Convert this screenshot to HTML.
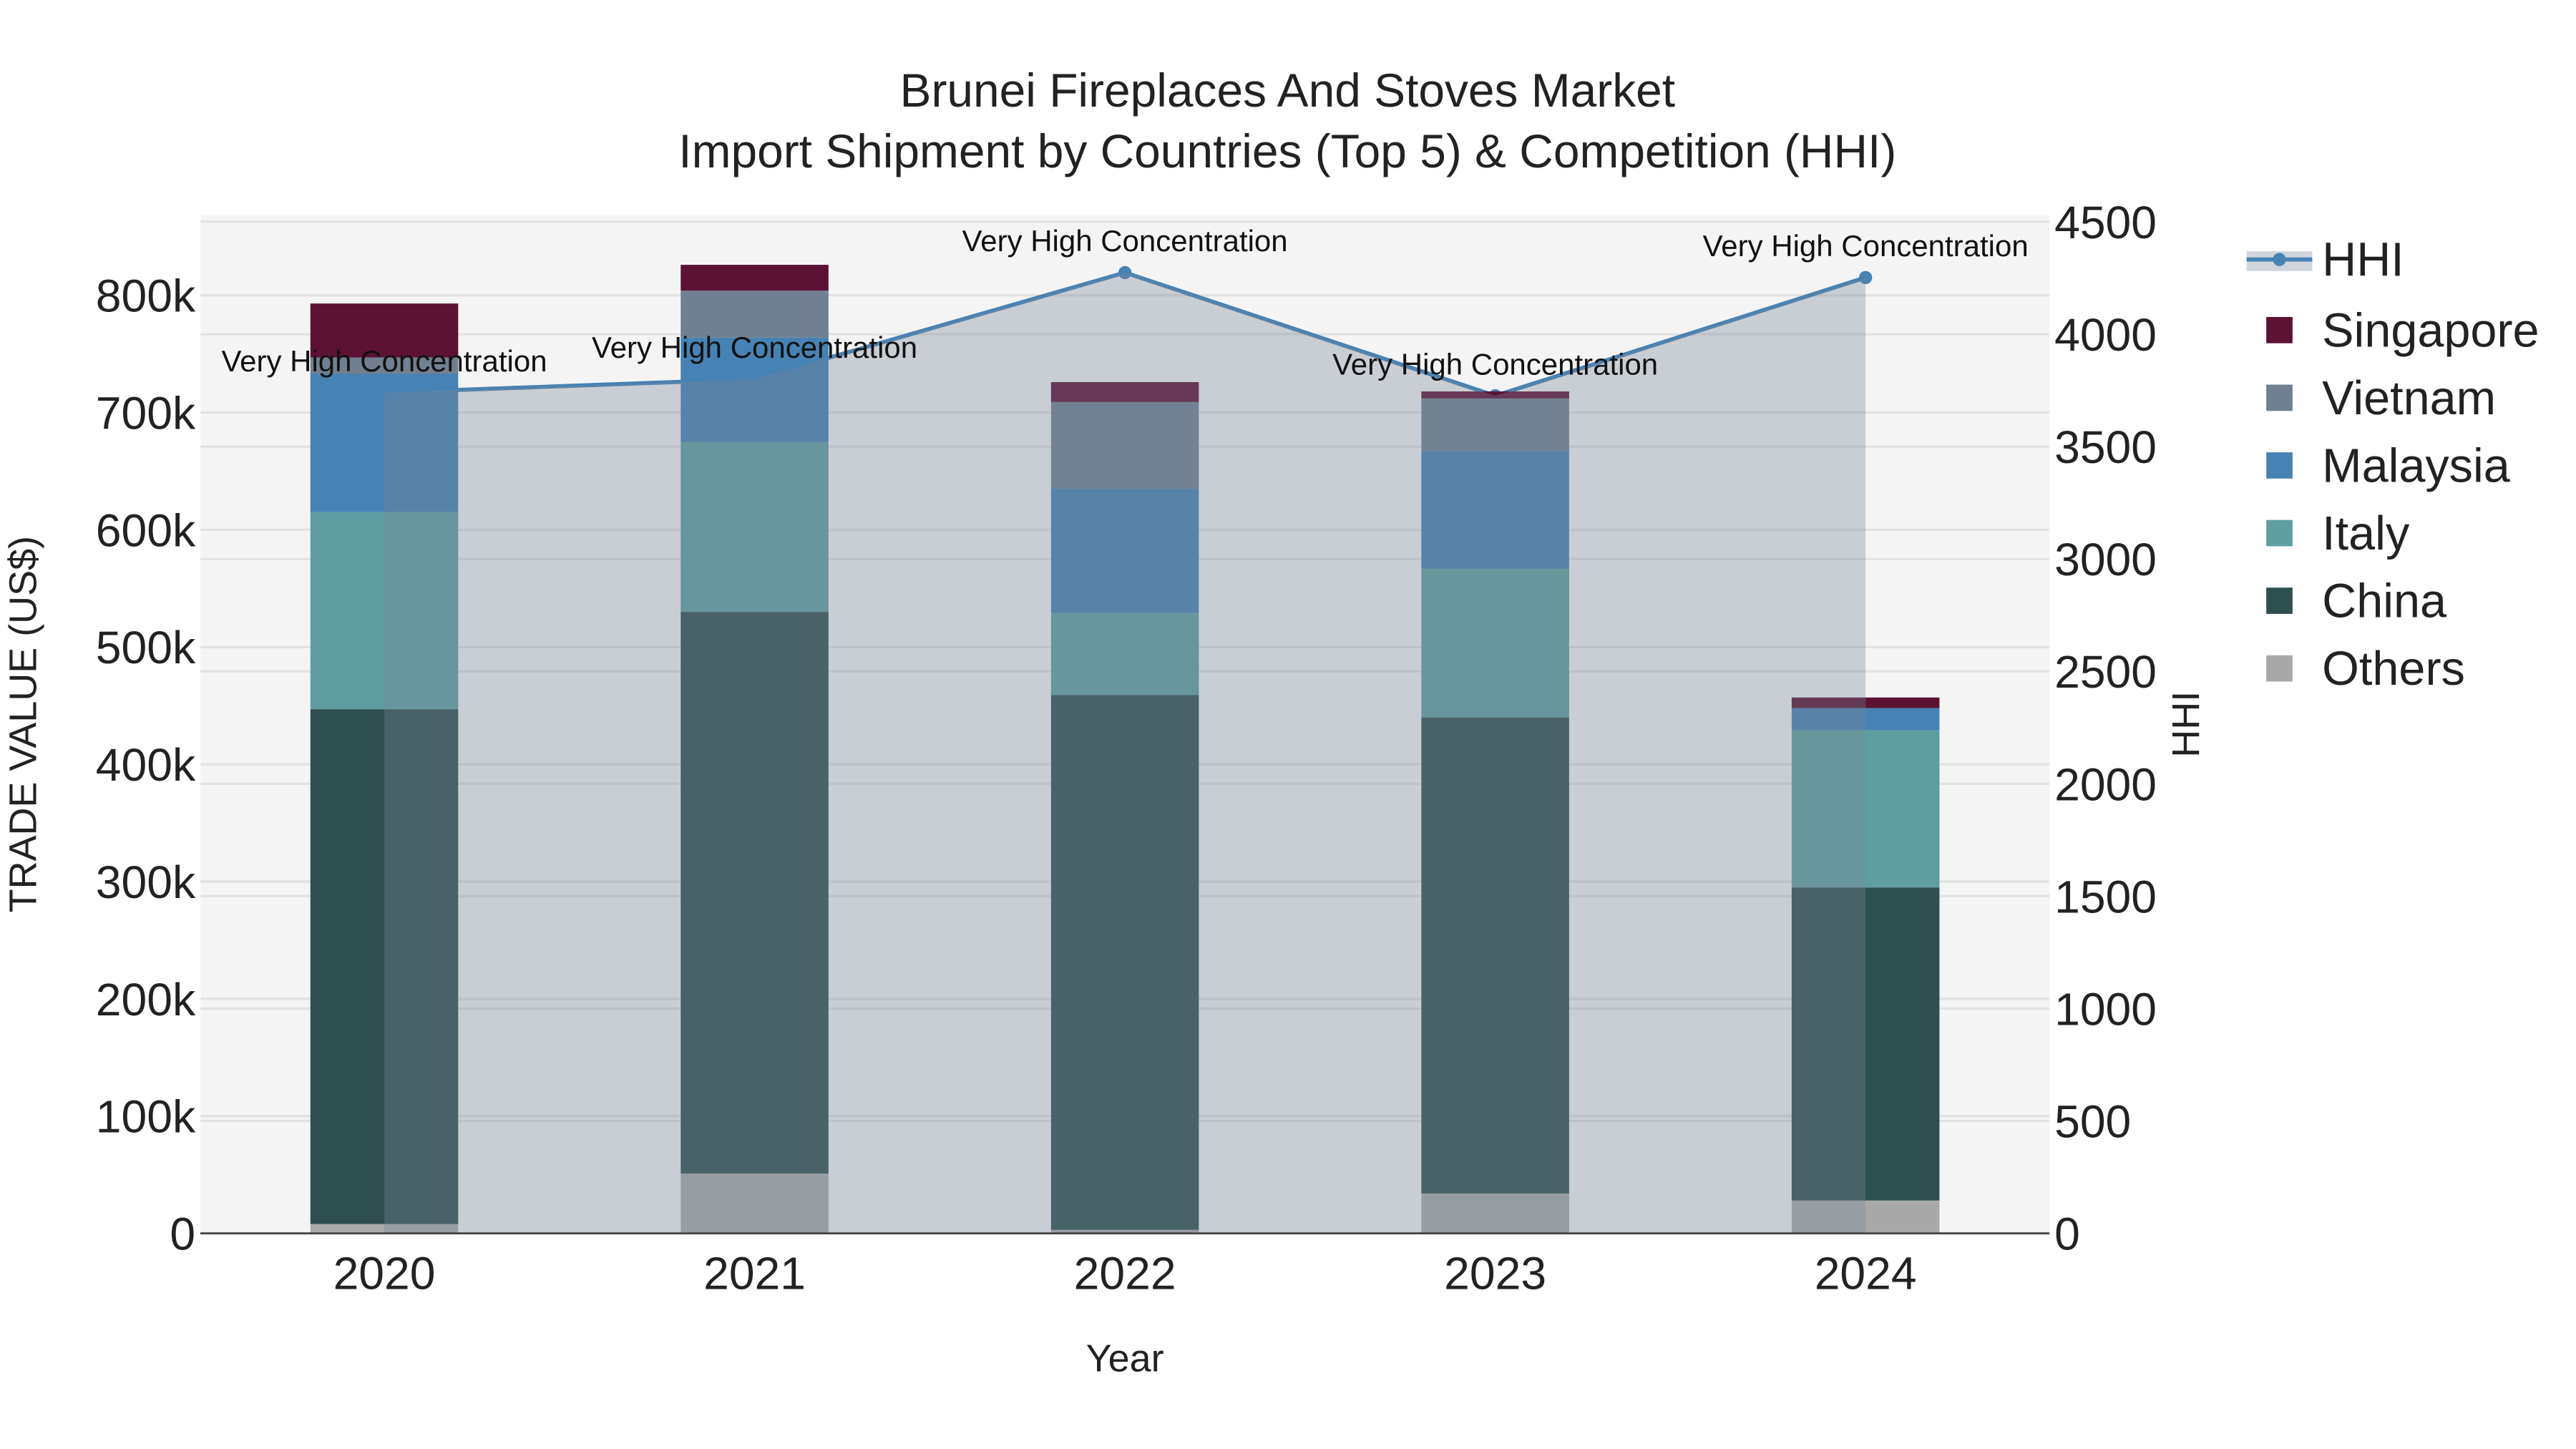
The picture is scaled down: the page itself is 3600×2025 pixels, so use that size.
<!DOCTYPE html>
<html><head><meta charset="utf-8"><style>
html,body{margin:0;padding:0;background:#fff}
svg{display:block}
text{font-family:"Liberation Sans",Arial,sans-serif}
</style></head><body>
<svg id="chart" width="3600" height="2025" viewBox="0 0 1568.6 882.3" xmlns="http://www.w3.org/2000/svg">
<rect width="1568.6" height="882.3" fill="#fff"/>
<text x="784" y="65" text-anchor="middle" font-size="28.7" fill="#222">Brunei Fireplaces And Stoves Market</text>
<text x="784" y="102" text-anchor="middle" font-size="28.7" fill="#222">Import Shipment by Countries (Top 5) &amp; Competition (HHI)</text>
<rect x="122" y="131" width="1126" height="620" fill="#f4f4f4"/>
<g id="grid"></g>
<g id="lineLayer"></g>
<g id="bars"></g>
<g id="area"></g>
<g id="annots"></g>
<g id="axes"></g>
<text x="685" y="835" text-anchor="middle" font-size="23.5" fill="#222">Year</text>
<text transform="translate(22,441) rotate(-90)" text-anchor="middle" font-size="23.5" fill="#222">TRADE VALUE (US$)</text>
<text transform="translate(1339,441) rotate(-90)" text-anchor="middle" font-size="23.5" fill="#222">HHI</text>
<g id="legend"></g>
</svg>
<script>
const years = ["2020","2021","2022","2023","2024"];
const seriesNames = ["Others","China","Italy","Malaysia","Vietnam","Singapore"];
const others    = [8000, 51000, 3000, 34000, 28000];
const china     = [439000, 479000, 456000, 406000, 267000];
const italy     = [168000, 145000, 70000, 127000, 134000];
const malaysia  = [118000, 89000, 106000, 100000, 19000];
const vietnam   = [14000, 40000, 74000, 45000, 0];
const singapore = [46000, 22000, 17000, 6000, 9000];
const hhi = [3740, 3800, 4274, 3726, 4252];
const hhiLabels = ["Very High Concentration","Very High Concentration","Very High Concentration","Very High Concentration","Very High Concentration"];
const leftTicks = [0,100000,200000,300000,400000,500000,600000,700000,800000];
const leftTickLabels = ["0","100k","200k","300k","400k","500k","600k","700k","800k"];
const rightTicks = [0,500,1000,1500,2000,2500,3000,3500,4000,4500];

const colors = {Others:"#a9a9a9",China:"#2f4f4f",Italy:"#5f9ea0",Malaysia:"#4682b4",Vietnam:"#708090",Singapore:"#5c1233"};
const seriesData = {Others:others,China:china,Italy:italy,Malaysia:malaysia,Vietnam:vietnam,Singapore:singapore};
const NS="http://www.w3.org/2000/svg";
const X0=234, DX=225.5, BW=90, YB=751;
const xPos=i=>X0+i*DX;
const yL=v=>YB - v/100000*71.4;
const yR=v=>YB - v/500*68.44;
function mk(tag,attrs,parent){const e=document.createElementNS(NS,tag);for(const k in attrs)e.setAttribute(k,attrs[k]);parent.appendChild(e);return e;}
const grid=document.getElementById('grid'),axes=document.getElementById('axes');
rightTicks.forEach(t=>{const g=mk('line',{x1:122,x2:1248,y1:yR(t),y2:yR(t),stroke:"#e2e2e2","stroke-width":1.5},grid);


const tx=mk('text',{x:1251,y:yR(t)+10,"font-size":28,fill:"#222"},axes);tx.textContent=t;

});
leftTicks.forEach((t,i)=>{const g=mk('line',{x1:122,x2:1248,y1:yL(t),y2:yL(t),stroke:"#e2e2e2","stroke-width":1.5},grid);


const tx=mk('text',{x:119,y:yL(t)+10,"font-size":28,fill:"#222","text-anchor":"end"},axes);tx.textContent=leftTickLabels[i];

});
const bl=mk('line',{x1:122,x2:1248,y1:YB,y2:YB,stroke:"#444","stroke-width":1.2},axes);


years.forEach((y,i)=>{const tx=mk('text',{x:xPos(i),y:785,"font-size":28,fill:"#222","text-anchor":"middle"},axes);tx.textContent=y;

});
const ll=document.getElementById('lineLayer');
const pts=hhi.map((v,i)=>xPos(i)+","+yR(v)).join(" ");
const pl=mk('polyline',{points:pts,fill:"none",stroke:"#4682b4","stroke-width":2.5},ll);


hhi.forEach((v,i)=>{const c=mk('circle',{cx:xPos(i),cy:yR(v),r:4,fill:"#4682b4"},ll);

});
const bars=document.getElementById('bars');
years.forEach((y,i)=>{let base=0;seriesNames.forEach(s=>{const v=seriesData[s][i];if(v>0){const r=mk('rect',{x:xPos(i)-BW/2,y:yL(base+v),width:BW,height:yL(base)-yL(base+v),fill:colors[s]},bars);

}base+=v;});});
const area=document.getElementById('area');
const ap=mk('polygon',{points:xPos(0)+","+YB+" "+pts+" "+xPos(hhi.length-1)+","+YB,fill:"rgba(119,135,153,0.35)"},area);


const an=document.getElementById('annots');
hhi.forEach((v,i)=>{const t=mk('text',{x:xPos(i),y:yR(v)-13,"font-size":18.3,fill:"#111","text-anchor":"middle"},an);t.textContent=hhiLabels[i];

});
const lg=document.getElementById('legend');
const h=mk('g',{},lg);


mk('rect',{x:1368,y:153,width:40,height:12,fill:"rgba(119,135,153,0.35)"},h);
mk('line',{x1:1368,x2:1408,y1:158,y2:158,stroke:"#4682b4","stroke-width":2.5},h);
mk('circle',{cx:1388,cy:158,r:4,fill:"#4682b4"},h);
const ht=mk('text',{x:1414,y:168,"font-size":29,fill:"#222"},h);ht.textContent="HHI";
const order=["Singapore","Vietnam","Malaysia","Italy","China","Others"];
order.forEach((s,k)=>{const yy=201+k*41.2;const g=mk('g',{},lg);


mk('rect',{x:1380,y:yy-8,width:16,height:16,fill:colors[s]},g);
const t=mk('text',{x:1414,y:yy+10,"font-size":29,fill:"#222"},g);t.textContent=s;});
</script>
</body></html>
